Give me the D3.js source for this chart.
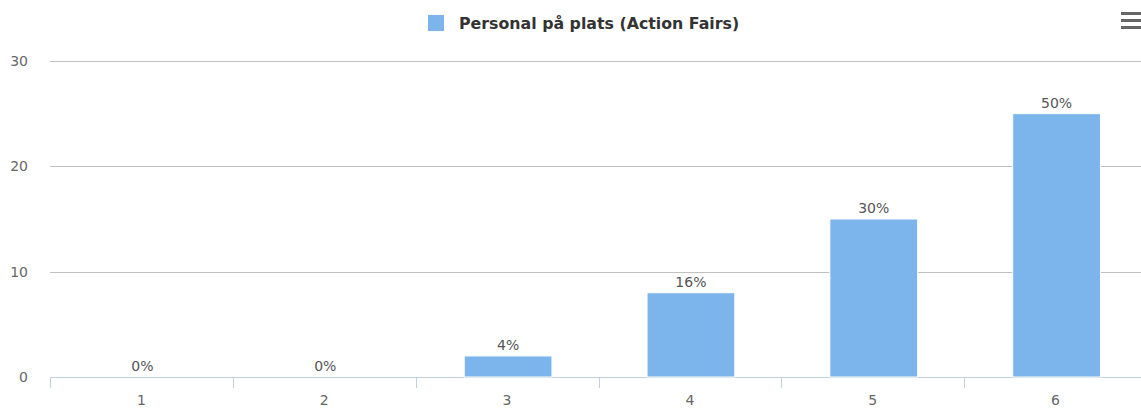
<!DOCTYPE html>
<html>
<head>
<meta charset="utf-8">
<script src="https://cdn.jsdelivr.net/npm/d3@7"></script>
<style>
  body { margin: 0; background: #fff; }
  svg { font-family: "DejaVu Sans", Verdana, sans-serif; display: block; }
</style>
</head>
<body>
<div id="chart"></div>
<script>
// Data
const categories = ["1", "2", "3", "4", "5", "6"]
const values = [0, 0, 2, 8, 15, 25]
const percentLabels = ["0%", "0%", "4%", "16%", "30%", "50%"]
const yTicks = [0, 10, 20, 30]
const seriesName = "Personal på plats (Action Fairs)"

// Environment variables
const width = 1141
const height = 409
const plotLeft = 50
const plotRight = 1147
const plotTop = 61
const plotBottom = 377
const barColor = "#7cb5ec"

let svg = d3.select("#chart")
    .append("svg")
    .attr("width", width)
    .attr("height", height)

const x = d3.scaleBand()
    .domain(categories)
    .range([plotLeft + 1, plotRight + 1])
    .paddingInner(0.52)
    .paddingOuter(0.26)

const xCat = d3.scaleBand()
    .domain(categories)
    .range([plotLeft, plotRight])

const y = d3.scaleLinear()
    .domain([0, 30])
    .range([plotBottom, plotTop])

// Grid lines
svg.append("g")
    .attr("id", "grid")
    .selectAll("line")
    .data(yTicks.filter(d => d > 0))
    .enter()
    .append("line")
    .attr("x1", plotLeft)
    .attr("x2", width)
    .attr("y1", d => Math.round(y(d)) + 0.5)
    .attr("y2", d => Math.round(y(d)) + 0.5)
    .style("stroke", "#c0c0c0")
    .style("stroke-width", 1)

// Y labels
svg.append("g")
    .attr("id", "ylabels")
    .selectAll("text")
    .data(yTicks)
    .enter()
    .append("text")
    .attr("x", 28)
    .attr("y", d => y(d) + 5)
    .attr("text-anchor", "end")
    .style("font-size", "14px")
    .style("fill", "#666")
    .text(d => d)

// X axis line and ticks
let xAxis = svg.append("g").attr("id", "xaxis")
xAxis.append("line")
    .attr("x1", plotLeft)
    .attr("x2", width)
    .attr("y1", plotBottom + 0.5)
    .attr("y2", plotBottom + 0.5)
    .style("stroke", "#c0d0e0")
    .style("stroke-width", 1)

xAxis.selectAll("line.tick")
    .data(categories)
    .enter()
    .append("line")
    .attr("class", "tick")
    .attr("x1", d => Math.round(xCat(d)) + 0.5)
    .attr("x2", d => Math.round(xCat(d)) + 0.5)
    .attr("y1", plotBottom)
    .attr("y2", plotBottom + 11)
    .style("stroke", "#c0d0e0")
    .style("stroke-width", 1)

xAxis.selectAll("text")
    .data(categories)
    .enter()
    .append("text")
    .attr("x", d => xCat(d) + xCat.bandwidth() / 2)
    .attr("y", plotBottom + 28)
    .attr("text-anchor", "middle")
    .style("font-size", "14px")
    .style("fill", "#666")
    .text(d => d)

// Bars
svg.append("g")
    .attr("id", "bars")
    .selectAll("rect")
    .data(values)
    .enter()
    .append("rect")
    .attr("x", (d, i) => x(categories[i]))
    .attr("width", x.bandwidth())
    .attr("y", d => y(d))
    .attr("height", d => y(0) - y(d))
    .style("fill", barColor)
    .style("stroke", "#fff")
    .style("stroke-width", 1)

// Data labels
svg.append("g")
    .attr("id", "labels")
    .selectAll("text")
    .data(values)
    .enter()
    .append("text")
    .attr("x", (d, i) => x(categories[i]) + x.bandwidth() / 2)
    .attr("y", d => y(d) - 6)
    .attr("text-anchor", "middle")
    .style("font-size", "14px")
    .style("fill", "#555")
    .text((d, i) => percentLabels[i])

// Legend
let legend = svg.append("g").attr("id", "legend")
legend.append("rect")
    .attr("x", 428)
    .attr("y", 15)
    .attr("width", 16)
    .attr("height", 16)
    .style("fill", barColor)
legend.append("text")
    .attr("x", 459)
    .attr("y", 29)
    .style("font-size", "15.8px")
    .style("font-weight", "bold")
    .style("fill", "#333")
    .text(seriesName)

// Menu icon
svg.append("g")
    .attr("id", "menu")
    .selectAll("line")
    .data([13, 20, 27])
    .enter()
    .append("line")
    .attr("x1", 1121)
    .attr("x2", 1141)
    .attr("y1", d => d + 0.5)
    .attr("y2", d => d + 0.5)
    .style("stroke", "#666")
    .style("stroke-width", 3)
</script>
</body>
</html>
